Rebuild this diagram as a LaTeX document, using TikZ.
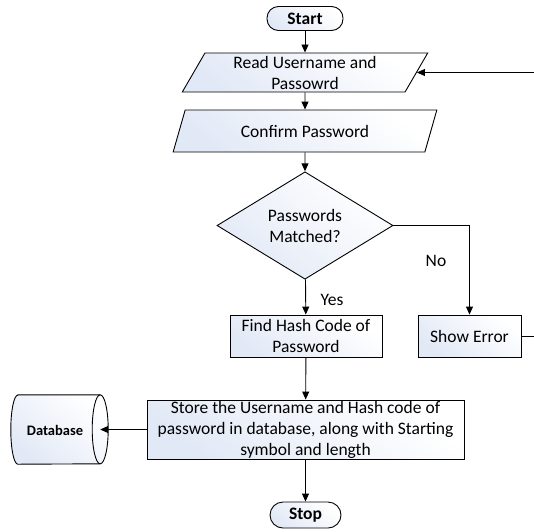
\documentclass[tikz,border=0pt]{standalone}
\usepackage{fontspec}
\setmainfont{Carlito}
\usetikzlibrary{shapes.geometric,arrows.meta}
\definecolor{fillblue}{HTML}{E2E9F6}
\tikzset{
  shade/.style={top color=white, bottom color=fillblue, shading angle=-40},
  base/.style={draw=black, line width=0.9pt, shade, inner sep=0pt, align=center,
    font=\fontsize{17.5}{21}\selectfont},
  term/.style={base, rectangle, rounded corners=11.5pt, minimum height=24pt,
    font=\fontsize{17.5}{21}\selectfont\bfseries},
  io/.style={base, trapezium, trapezium stretches=true},
  proc/.style={base, rectangle},
  decision/.style={base, diamond},
  conn/.style={line width=0.9pt, -{Triangle[length=8pt,width=7pt]}},
  lbl/.style={font=\fontsize{17.5}{21}\selectfont, inner sep=0pt},
}
\begin{document}
\begin{tikzpicture}[x=1pt,y=-1pt]
\useasboundingbox (0,0) rectangle (534,531);
\clip (0,0) rectangle (534,531);
\node[term, minimum width=76pt] (start) at (305,18.5) {Start};
\node[io, trapezium left angle=64, trapezium right angle=116,
      minimum width=246pt, minimum height=39pt] (read) at (305,72.5)
      {Read Username and\\Passowrd};
\node[io, trapezium left angle=62.4, trapezium right angle=117.6,
      minimum width=264pt, minimum height=42pt] (confirm) at (305,131)
      {Confirm Password};
\node[decision, minimum width=176pt, minimum height=85pt] (match) at (305,225.5)
      {Passwords\\Matched?};
\node[proc, minimum width=152pt, minimum height=42pt] (hash) at (306,336)
      {Find Hash Code of\\Password};
\node[proc, minimum width=103pt, minimum height=42pt] (err) at (469.5,336)
      {Show Error};
\node[proc, minimum width=317pt, minimum height=59pt] (store) at (305.5,429.5)
      {Store the Username and Hash code of\\password in database, along with Starting\\symbol and length};
\node[term, minimum width=71pt, minimum height=26pt, rounded corners=13pt] (stop) at (305.5,515)
      {Stop};
% database
\node[minimum width=82pt, minimum height=69pt, inner sep=0pt] (db) at (59,429.5) {};
\path[draw=black, line width=0.9pt, shade]
  (db.north west) -- (db.north east)
  arc[start angle=90, end angle=-90, x radius=8pt, y radius=34.5pt]
  -- (db.south west)
  arc[start angle=270, end angle=90, x radius=7pt, y radius=34.5pt] -- cycle;
\draw[line width=0.9pt] (db.north east)
  arc[start angle=90, end angle=270, x radius=8pt, y radius=34.5pt];
\node[font=\fontsize{14.5}{16}\selectfont\bfseries, inner sep=0pt] (dbtext) at (55,430) {Database};
% connectors
\draw[conn] (start) -- (read);
\draw[conn] (read) -- (confirm);
\draw[conn] (confirm) -- (match);
\draw[conn] (match) -- (hash);
\draw[conn] (match.east) -| (err.north);
\draw[conn] (hash) -- (store);
\draw[conn] (store.west) -- (db.east);
\draw[conn] (store) -- (stop);
\draw[conn] (err.east) -- ++(19pt,0) |- (read.east);
% labels
\node[lbl] (yes) at (332,300) {Yes};
\node[lbl] (no) at (436,261) {No};
\end{tikzpicture}
\end{document}
